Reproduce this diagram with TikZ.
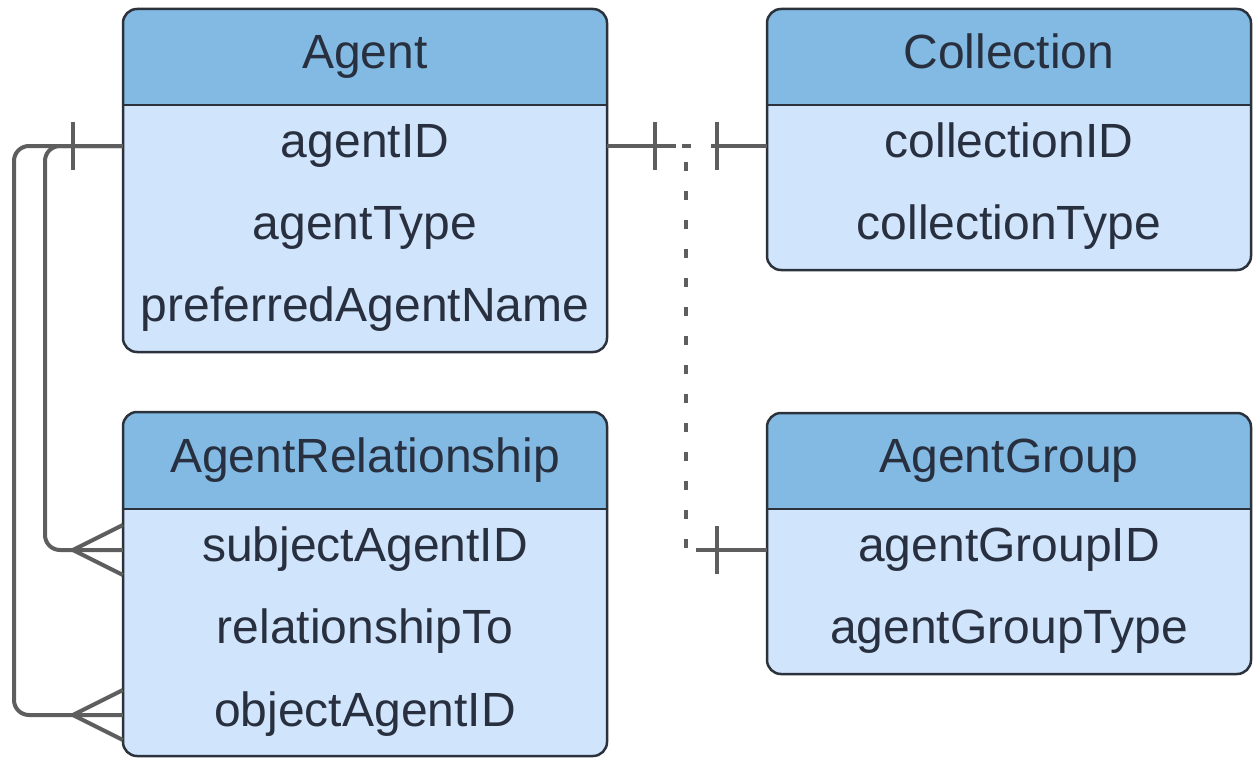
\documentclass[tikz,border=0pt]{standalone}
\usepackage{fontspec}
\setmainfont{Liberation Sans}
\usetikzlibrary{fit,calc}
\definecolor{hdr}{HTML}{83BAE3}
\definecolor{bodyc}{HTML}{D0E4FB}
\definecolor{edgec}{HTML}{2B323B}
\definecolor{conn}{HTML}{5E5E5E}
\definecolor{txt}{HTML}{283040}
\newcommand{\ertable}[6]{%
  \begin{scope}
    \clip[rounded corners=14] (#2,#3) rectangle (#4,#5);
    \fill[bodyc] (#2,#3) rectangle (#4,#5);
    \fill[hdr] (#2,#3) rectangle (#4,#6);
  \end{scope}
  \draw[edgec, line width=2.5, rounded corners=14] (#2,#3) rectangle (#4,#5);
  \draw[edgec, line width=2.5] (#2,#6) -- (#4,#6);
  \coordinate (#1nw) at (#2,#3);
  \coordinate (#1se) at (#4,#5);
  \node[fit=(#1nw)(#1se), inner sep=0pt] (#1) {};
}
\begin{document}
\begin{tikzpicture}[x=1pt,y=-1pt,
  lbl/.style={text=txt, font=\fontsize{48}{52}\selectfont, text height=34pt, text depth=10pt, inner sep=0pt, anchor=center},
  connline/.style={draw=conn, line width=4pt},
  conndash/.style={draw=conn, line width=4pt, dash pattern=on 9pt off 20pt},
  tick/.style={draw=conn, line width=4pt}
]
\useasboundingbox (0,0) rectangle (1260,768);

\ertable{agent}{123}{9}{607}{352}{105}
\ertable{coll}{767}{9}{1251}{270}{105}
\ertable{rel}{123}{412}{607}{756}{509}
\ertable{grp}{767}{413}{1251}{674}{509}

% labels
\node[lbl] (agentH) at (365,56) {Agent};
\node[lbl] (agentID) at (365,145) {agentID};
\node[lbl] (agentType) at (365,227) {agentType};
\node[lbl] (agentName) at (365,309) {preferredAgentName};

\node[lbl] (collH) at (1009,56) {Collection};
\node[lbl] (collID) at (1009,145) {collectionID};
\node[lbl] (collType) at (1009,227) {collectionType};

\node[lbl] (relH) at (365,460) {AgentRelationship};
\node[lbl] (relSub) at (365,549) {subjectAgentID};
\node[lbl] (relTo) at (365,631) {relationshipTo};
\node[lbl] (relObj) at (365,714) {objectAgentID};

\node[lbl] (grpH) at (1009,460) {AgentGroup};
\node[lbl] (grpID) at (1009,549) {agentGroupID};
\node[lbl] (grpType) at (1009,631) {agentGroupType};

% anchor points
\coordinate (aL) at (agent.west |- 0,146);
\coordinate (aR) at (agent.east |- 0,146);
\coordinate (cL) at (coll.west |- 0,146);
\coordinate (sL) at (rel.west |- 0,550);
\coordinate (oL) at (rel.west |- 0,715);
\coordinate (gL) at (grp.west |- 0,550);
\coordinate (xo) at (14,0);
\coordinate (xi) at (45,0);
\coordinate (xm) at (686,0);

% left connectors (Agent -> AgentRelationship)
\draw[connline, rounded corners=15] (aL) -- (aL -| xo) -- (xo |- oL) -- (oL);
\draw[connline, rounded corners=15] (aL) -- (aL -| xi) -- (xi |- sL) -- (sL);
\draw[tick] ($(aL)+(-50,-24)$) -- ($(aL)+(-50,24)$);
\draw[connline] ($(sL)+(-50,0)$) -- ($(sL)+(0,-25)$);
\draw[connline] ($(sL)+(-50,0)$) -- ($(sL)+(0,25)$);
\draw[connline] ($(oL)+(-50,0)$) -- ($(oL)+(0,-25)$);
\draw[connline] ($(oL)+(-50,0)$) -- ($(oL)+(0,25)$);

% Agent -> Collection
\draw[conndash, dash phase=-6pt] ($(aR)+(69,0)$) -- ($(cL)+(-54,0)$);
\draw[connline] (aR) -- ($(aR)+(69,0)$);
\draw[connline] (cL) -- ($(cL)+(-54,0)$);
\draw[tick] ($(aR)+(48,-24)$) -- ($(aR)+(48,24)$);
\draw[tick] ($(cL)+(-50,-24)$) -- ($(cL)+(-50,24)$);

% Agent -> AgentGroup
\draw[conndash, dash phase=-8pt] ($(aR -| xm)+(0,8)$) -- (xm |- gL) -- ($(gL)+(-71,0)$);
\draw[connline] (gL) -- ($(gL)+(-71,0)$);
\draw[tick] ($(gL)+(-50,-24)$) -- ($(gL)+(-50,24)$);
\end{tikzpicture}
\end{document}
